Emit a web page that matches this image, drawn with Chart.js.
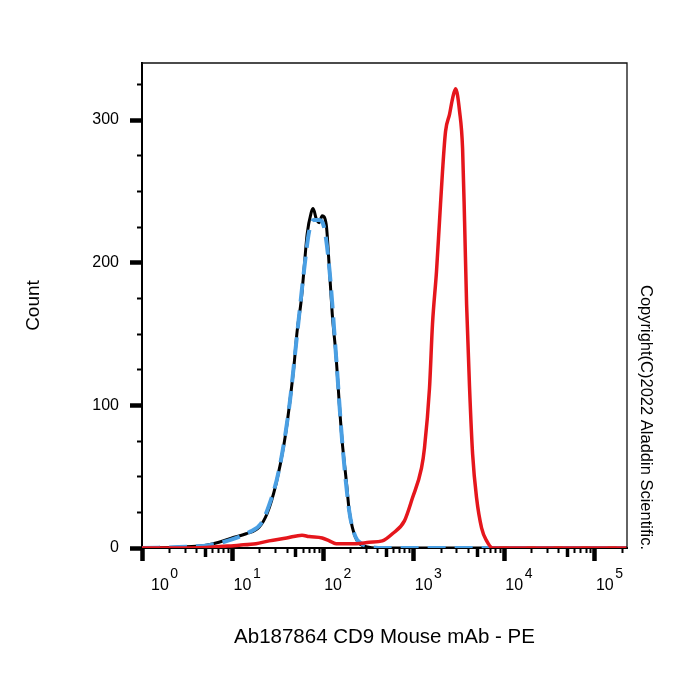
<!DOCTYPE html>
<html>
<head>
<meta charset="utf-8">
<script src="https://cdn.jsdelivr.net/npm/chart.js@4.4.1/dist/chart.umd.min.js"></script>
<style>
  html, body { margin: 0; padding: 0; background: #ffffff; }
  #wrap { width: 700px; height: 700px; }
</style>
</head>
<body>
<div id="wrap"><canvas id="c" width="700" height="700"></canvas></div>
<script>
// ---------------- DATA ----------------
const blackX = [1, 3.55, 5.1, 7.06, 9.84, 14.1, 19.6, 24, 30.2, 37, 42, 47.8, 51.6, 57.1, 61.6, 66.5, 73.6, 77.5, 83.7, 90.3, 97.5, 108, 117, 126, 139, 150, 162, 180, 194, 210, 238, 299, 417, 1000, 10000, 226000];
const blackCount = [0, 1, 2, 4, 7, 10, 14.5, 24, 45, 73, 98, 129, 152, 173, 196, 220, 235, 238, 231, 228, 233, 227, 196, 164, 134, 103, 75, 47, 26, 14.5, 5, 1, 0, 0, 0, 0];

const blueX = [1, 3.55, 5.5, 9.84, 15.2, 20.5, 25.3, 32.6, 42, 51.6, 61.6, 70, 79, 90.3, 103, 117, 139, 162, 194, 227, 266, 320, 470, 1000, 10000, 226000];
const blueCount = [0, 1, 2, 6, 11, 17, 30, 55, 98, 150, 195, 222, 230, 230, 224, 196, 134, 75, 26, 8, 3, 1, 0, 0, 0, 0];

const redX = [1, 3.55, 11.8, 18.1, 25.3, 39.5, 58.4, 69.9, 97.5, 117, 139, 231, 323, 450, 581, 789, 967, 1217, 1313, 1492, 1610, 1783, 1924, 2077, 2243, 2483, 2681, 2894, 3206, 3460, 3640, 3830, 4133, 4463, 4940, 5613, 6380, 7430, 226000];
const redCount = [0, 0, 2, 3, 5, 7, 9, 8, 7, 5, 3, 3, 4, 5, 10, 19, 35, 56, 70, 112, 157, 194, 229, 264, 292, 304, 315, 322, 306, 280, 229, 171, 112, 66, 35, 14, 5, 0, 0];

const xMajorTicks = [1, 10, 100, 1000, 10000, 100000];
const xMajorBase = ['10', '10', '10', '10', '10', '10'];
const xMajorExp = ['0', '1', '2', '3', '4', '5'];
const xMediumTicks = [5, 50, 500, 5000, 50000];
const xMinorTicks = [];
for (const d of xMajorTicks) { for (let m = 1; m <= 9; m++) { if (m * d <= 226000) xMinorTicks.push(m * d); } }
const yMajorTicks = [0, 100, 200, 300];
const yMinorTicks = [0, 25, 50, 75, 100, 125, 150, 175, 200, 225, 250, 275, 300, 325];

const xTitle = 'Ab187864 CD9 Mouse mAb - PE';
const yTitle = 'Count';
const copyrightText = 'Copyright(C)2022 Aladdin Scientific.';

const X_MIN = 1, X_MAX = 226000, Y_MIN = 0, Y_MAX = 340;

// -------------- CHART -----------------
const FONT = "'Liberation Sans', Arial, Helvetica, sans-serif";
Chart.defaults.font.family = FONT;
Chart.defaults.color = '#000';

const toPts = (xs, ys) => xs.map((x, i) => ({ x: x, y: ys[i] }));

const extrasPlugin = {
  id: 'extras',
  afterDraw(chart) {
    const ctx = chart.ctx;
    const a = chart.chartArea;
    ctx.save();
    // frame (top and right)
    ctx.strokeStyle = '#111';
    ctx.lineWidth = 1.3;
    ctx.beginPath();
    ctx.moveTo(a.left, a.top);
    ctx.lineTo(a.right, a.top);
    ctx.lineTo(a.right, a.bottom);
    ctx.stroke();
    // x tick labels 10^n
    const s = chart.scales.x;
    ctx.fillStyle = '#000';
    ctx.textAlign = 'left';
    ctx.textBaseline = 'alphabetic';
    xMajorTicks.forEach((v, i) => {
      const px = s.getPixelForValue(v);
      const x0 = px + (i === 0 ? 9 : 1);
      ctx.font = '16px ' + FONT;
      ctx.fillText(xMajorBase[i], x0, 590);
      const w = ctx.measureText(xMajorBase[i]).width;
      ctx.font = '14px ' + FONT;
      ctx.fillText(xMajorExp[i], x0 + w + 1.5, 578);
    });
    // copyright, rotated
    ctx.translate(646, 285);
    ctx.rotate(Math.PI / 2);
    ctx.font = '16.5px ' + FONT;
    ctx.textAlign = 'left';
    ctx.textBaseline = 'middle';
    ctx.fillText(copyrightText, 0, 0);
    ctx.restore();
  }
};

new Chart(document.getElementById('c'), {
  type: 'line',
  data: {
    datasets: [
      { label: 'PE', data: toPts(redX, redCount), borderColor: '#e5161c', borderWidth: 3.5,
        pointRadius: 0, cubicInterpolationMode: 'monotone', xAxisID: 'x', yAxisID: 'y' },
      { label: 'Isotype', data: toPts(blueX, blueCount), borderColor: '#4a9fe3', borderWidth: 4,
        borderDash: [18, 9], pointRadius: 0, cubicInterpolationMode: 'monotone', xAxisID: 'x', yAxisID: 'y' },
      { label: 'Blank', data: toPts(blackX, blackCount), borderColor: '#000000', borderWidth: 3,
        pointRadius: 0, cubicInterpolationMode: 'monotone', xAxisID: 'x', yAxisID: 'y' }
    ]
  },
  options: {
    responsive: false,
    animation: false,
    devicePixelRatio: 1,
    layout: { padding: { left: 0, top: 63, right: 73, bottom: 0 } },
    plugins: { legend: { display: false }, tooltip: { enabled: false } },
    scales: {
      x: {
        type: 'logarithmic', axis: 'x', position: 'bottom', min: X_MIN, max: X_MAX,
        afterBuildTicks: (sc) => { sc.ticks = xMinorTicks.map(v => ({ value: v })); },
        afterFit: (sc) => { sc.height = 152; },
        ticks: { display: false },
        grid: { drawOnChartArea: false, drawTicks: true, tickLength: 5, tickWidth: 2, tickColor: '#000' },
        border: { display: true, width: 2, color: '#000' },
        title: { display: true, text: xTitle, color: '#000', font: { size: 20.5 }, padding: { top: 0, bottom: 50 } }
      },
      xMed: {
        type: 'logarithmic', axis: 'x', position: { y: 0 }, min: X_MIN, max: X_MAX,
        afterBuildTicks: (sc) => { sc.ticks = xMediumTicks.map(v => ({ value: v })); },
        ticks: { display: false },
        grid: { drawOnChartArea: false, drawTicks: true, tickLength: 9, tickWidth: 3.5, tickColor: '#000' },
        border: { display: false }
      },
      xMaj: {
        type: 'logarithmic', axis: 'x', position: { y: 0 }, min: X_MIN, max: X_MAX,
        afterBuildTicks: (sc) => { sc.ticks = xMajorTicks.map(v => ({ value: v })); },
        ticks: { display: false },
        grid: { drawOnChartArea: false, drawTicks: true, tickLength: 13, tickWidth: 4.5, tickColor: '#000' },
        border: { display: false }
      },
      y: {
        type: 'linear', axis: 'y', position: 'left', min: Y_MIN, max: Y_MAX,
        afterBuildTicks: (sc) => { sc.ticks = yMinorTicks.map(v => ({ value: v })); },
        afterFit: (sc) => { sc.width = 142; },
        ticks: {
          callback: (v) => (yMajorTicks.indexOf(v) >= 0 ? String(v) : ''),
          padding: 18, color: '#000', font: { size: 16 }
        },
        grid: { drawOnChartArea: false, drawTicks: true, tickLength: 5, tickWidth: 2, tickColor: '#000' },
        border: { display: true, width: 2, color: '#000' },
        title: { display: true, text: yTitle, color: '#000', font: { size: 19 }, padding: { top: 22, bottom: 0 } }
      },
      yMaj: {
        type: 'linear', axis: 'y', position: { x: X_MIN }, min: Y_MIN, max: Y_MAX,
        afterBuildTicks: (sc) => { sc.ticks = yMajorTicks.map(v => ({ value: v })); },
        ticks: { display: false },
        grid: { drawOnChartArea: false, drawTicks: true, tickLength: 12, tickWidth: 4.5, tickColor: '#000' },
        border: { display: false }
      }
    }
  },
  plugins: [extrasPlugin]
});
</script>
</body>
</html>
